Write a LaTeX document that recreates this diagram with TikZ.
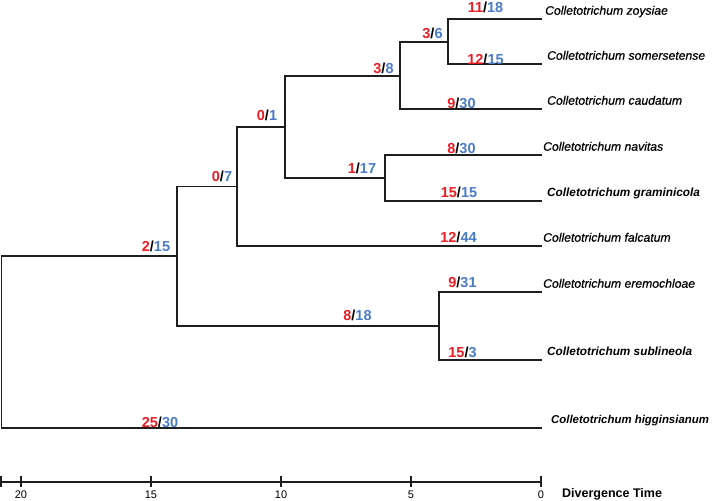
\documentclass[tikz,border=0pt]{standalone}
\usepackage{fontspec}
\setmainfont{Liberation Sans}
\definecolor{nred}{RGB}{232,30,36}
\definecolor{nblue}{RGB}{74,124,198}
\definecolor{branchcol}{RGB}{30,30,30}
\tikzset{
  branch/.style={line width=1.2pt, draw=branchcol, line cap=rect},
  axisline/.style={line width=1.1pt, draw=branchcol},
  num/.style={font=\fontsize{14.5}{16}\selectfont\bfseries, inner sep=0pt, anchor=center},
  taxon/.style={font=\fontsize{12.2}{14}\selectfont\itshape\addfontfeature{FakeBold=0.6}, anchor=base west, inner sep=0pt},
  taxonb/.style={taxon, font=\fontsize{11.8}{14}\selectfont\bfseries\itshape},
  ticklab/.style={font=\fontsize{11}{13}\selectfont, inner sep=0pt, anchor=center},
}
\newcommand{\rb}[2]{\textcolor{nred}{#1}/\textcolor{nblue}{#2}}
\begin{document}
\begin{tikzpicture}[x=1pt,y=-1pt]
\useasboundingbox (0,0) rectangle (713,501);
% internal nodes
\coordinate (R) at (1.5,342);
\coordinate (F) at (177,256);
\coordinate (E) at (237,186.5);
\coordinate (D) at (285,127);
\coordinate (B) at (400,76);
\coordinate (A) at (448,42);
\coordinate (C) at (385,178);
\coordinate (G) at (439,326);
% tips
\coordinate (t1) at (541,19);
\coordinate (t2) at (541,64);
\coordinate (t3) at (541,109);
\coordinate (t4) at (541,155);
\coordinate (t5) at (541,201);
\coordinate (t6) at (541,246);
\coordinate (t7) at (541,292);
\coordinate (t8) at (541,360);
\coordinate (t9) at (541,428);
% branches
\draw[branch] (A) |- (t1);
\draw[branch] (A) |- (t2);
\draw[branch] (B) |- (A);
\draw[branch] (B) |- (t3);
\draw[branch] (C) |- (t4);
\draw[branch] (C) |- (t5);
\draw[branch] (D) |- (B);
\draw[branch] (D) |- (C);
\draw[branch] (E) |- (D);
\draw[branch] (E) |- (t6);
\draw[branch] (G) |- (t7);
\draw[branch] (G) |- (t8);
\draw[branch] (F) |- (E);
\draw[branch] (F) |- (G);
\draw[branch] (R) |- (F);
\draw[branch] (R) |- (t9);
% taxon labels
\node[taxon]  (n1) at ([xshift=4pt,yshift=4.3pt]t1) {Colletotrichum zoysiae};
\node[taxon]  (n2) at ([xshift=6pt,yshift=4.3pt]t2) {Colletotrichum somersetense};
\node[taxon]  (n3) at ([xshift=6pt,yshift=4.3pt]t3) {Colletotrichum caudatum};
\node[taxon]  (n4) at ([xshift=2pt,yshift=4.3pt]t4) {Colletotrichum navitas};
\node[taxonb] (n5) at ([xshift=6pt,yshift=4.3pt]t5) {Colletotrichum graminicola};
\node[taxon]  (n6) at ([xshift=2pt,yshift=4.3pt]t6) {Colletotrichum falcatum};
\node[taxon]  (n7) at ([xshift=2pt,yshift=4.3pt]t7) {Colletotrichum eremochloae};
\node[taxonb] (n8) at ([xshift=6pt,yshift=4.3pt]t8) {Colletotrichum sublineola};
\node[taxonb, font=\fontsize{11.4}{14}\selectfont\bfseries\itshape] (n9) at ([xshift=10pt,yshift=4.3pt]t9) {Colletotrichum higginsianum};
% branch numbers
\node[num] (l1)  at (485.5,7)   {\rb{11}{18}};
\node[num] (l2)  at (432.5,33)  {\rb{3}{6}};
\node[num] (l3)  at (485.5,59)  {\rb{12}{15}};
\node[num] (l4)  at (383.5,68)  {\rb{3}{8}};
\node[num] (l5)  at (461.5,103) {\rb{9}{30}};
\node[num] (l6)  at (267,115)   {\rb{0}{1}};
\node[num] (l7)  at (461.5,148) {\rb{8}{30}};
\node[num] (l8)  at (362,168)   {\rb{1}{17}};
\node[num] (l9)  at (222,176)   {\rb{0}{7}};
\node[num] (l10) at (459,192)   {\rb{15}{15}};
\node[num] (l11) at (458.5,237) {\rb{12}{44}};
\node[num] (l12) at (156,246)   {\rb{2}{15}};
\node[num] (l13) at (462.5,282) {\rb{9}{31}};
\node[num] (l14) at (357.5,315) {\rb{8}{18}};
\node[num] (l15) at (462.5,352) {\rb{15}{3}};
\node[num] (l16) at (160,422)   {\rb{25}{30}};
% time axis
\coordinate (ax0) at (1,482);
\coordinate (ax1) at (541,482);
\draw[axisline] (ax0) -- (ax1);
\foreach \xx/\lab in {1/{}, 21/20, 151/15, 281/10, 411/5, 541/0}{
  \draw[axisline] (\xx,476) -- (\xx,487);
  \node[ticklab] at (\xx,494.5) {\lab};
}
\node[font=\fontsize{12.5}{14}\selectfont\bfseries, anchor=west, inner sep=0pt] (dt) at (562,494.5) {Divergence Time};
\end{tikzpicture}
\end{document}
